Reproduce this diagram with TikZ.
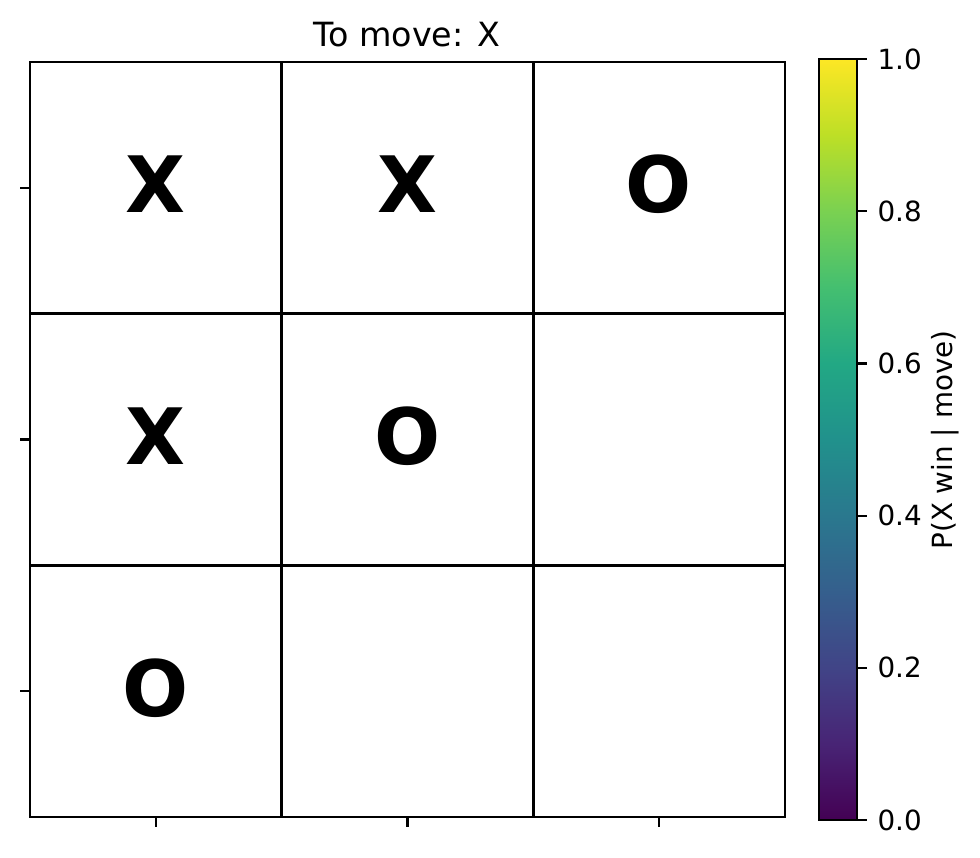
\documentclass[tikz,border=0pt]{standalone}
\usepackage{fontspec}
\setmainfont{DejaVu Sans}
\definecolor{v0}{HTML}{440154}
\definecolor{v1}{HTML}{482475}
\definecolor{v2}{HTML}{414487}
\definecolor{v3}{HTML}{355F8D}
\definecolor{v4}{HTML}{2A788E}
\definecolor{v5}{HTML}{21918C}
\definecolor{v6}{HTML}{22A884}
\definecolor{v7}{HTML}{44BF70}
\definecolor{v8}{HTML}{7AD151}
\definecolor{v9}{HTML}{BDDF26}
\definecolor{v10}{HTML}{FDE725}
\pgfdeclareverticalshading{viridis}{100bp}{color(0bp)=(v0); color(25bp)=(v0); color(30bp)=(v1); color(35bp)=(v2); color(40bp)=(v3); color(45bp)=(v4); color(50bp)=(v5); color(55bp)=(v6); color(60bp)=(v7); color(65bp)=(v8); color(70bp)=(v9); color(75bp)=(v10); color(100bp)=(v10)}
\begin{document}
\begin{tikzpicture}[x=0.36pt,y=-0.36pt,
  gridline/.style={line width=1pt,black},
  tickmark/.style={line width=0.8pt,black},
  piece/.style={font=\fontsize{28}{33}\selectfont\bfseries,inner sep=0pt,anchor=base},
  ticklabel/.style={font=\fontsize{10}{12}\selectfont,inner sep=0pt,anchor=base west},
]
\useasboundingbox[fill=white] (0,0) rectangle (980,857);
% board cells
\foreach \r in {0,1,2}{
  \foreach \c in {0,1,2}{
    \node[draw=none,minimum size=0pt,inner sep=0pt] (cell\r\c) at ({30+251.67*\c+125.8},{62+251.67*\r+125.8}) {};
  }
}
\draw[gridline] (30,62) rectangle (785,817);
\draw[gridline] (281.67,62) -- (281.67,817);
\draw[gridline] (533.33,62) -- (533.33,817);
\draw[gridline] (30,313.67) -- (785,313.67);
\draw[gridline] (30,565.33) -- (785,565.33);
% pieces
\node[piece] (p00) at (155.5,212) {X};
\node[piece] (p01) at (407.2,212) {X};
\node[piece] (p02) at (658.8,212) {O};
\node[piece] (p10) at (155.5,464) {X};
\node[piece] (p11) at (407.2,464) {O};
\node[piece] (p20) at (155.5,716) {O};
% axis ticks
\foreach \yy in {187.8,439.5,691.2}{\draw[tickmark] (20,\yy) -- (30,\yy);}
\foreach \xx in {155.8,407.5,659.2}{\draw[tickmark] (\xx,817) -- (\xx,827);}
% title
\node[font=\fontsize{12}{14}\selectfont,inner sep=0pt,anchor=base] (title) at (407,46) {To move: X};
% colorbar
\shade[shading=viridis] (819,59) rectangle (857,820);
\draw[line width=0.8pt] (819,59) rectangle (857,820);
\foreach \v/\lab in {0/0.0,1/0.2,2/0.4,3/0.6,4/0.8,5/1.0}{
  \draw[tickmark] (857,{820-152.2*\v}) -- (867,{820-152.2*\v});
  \node[ticklabel] (cb\v) at (877,{820-152.2*\v+10.1}) {\lab};
}
\node[font=\fontsize{10}{12}\selectfont,inner sep=0pt,anchor=base,rotate=90] (cblabel) at (952,440) {P(X win | move)};
\end{tikzpicture}
\end{document}
